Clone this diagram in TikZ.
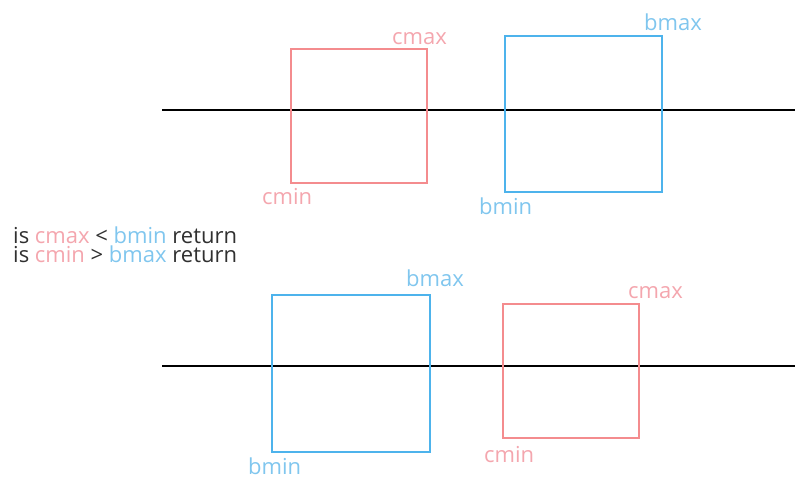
\documentclass[tikz,border=0pt]{standalone}
\usepackage{fontspec}
\setmainfont{Open Sans}
\definecolor{cred}{HTML}{F48C8E}
\definecolor{cblue}{HTML}{4DB3EC}
\definecolor{tred}{HTML}{F4A6AE}
\definecolor{tblue}{HTML}{80C6EE}
\definecolor{tdark}{HTML}{303030}
\begin{document}
\begin{tikzpicture}[x=1pt,y=-1pt,
  axis/.style={line width=2pt,black},
  cbox/.style={draw=cred,line width=2pt},
  bbox/.style={draw=cblue,line width=2pt},
  lbl/.style={font=\fontsize{22}{19.5}\selectfont,inner sep=0pt},
  rlbl/.style={lbl,text=tred},
  blbl/.style={lbl,text=tblue}]
\useasboundingbox (0,0) rectangle (795,479);
% upper case: c entirely left of b
\coordinate (a1) at (162,110);
\coordinate (a2) at (795,110);
\draw[axis] (a1) -- (a2);
\draw[cbox] (291,49) rectangle (427,183);
\draw[bbox] (505,36) rectangle (662,192);
\node[rlbl,anchor=base west] (c1max) at (392,44) {cmax};
\node[rlbl,anchor=base west] (c1min) at (262,204) {cmin};
\node[blbl,anchor=base west] (b1max) at (644,30) {bmax};
\node[blbl,anchor=base west] (b1min) at (479,214) {bmin};
% the two rejection tests (anchor sits on the baseline of the last line)
\node[lbl,anchor=base west,text=tdark,align=left] (tests) at (13,262.5)
  {is \textcolor{tred}{cmax} < \textcolor{tblue}{bmin} return\\
   is \textcolor{tred}{cmin} > \textcolor{tblue}{bmax} return};
% lower case: c entirely right of b
\coordinate (l1) at (162,366);
\coordinate (l2) at (795,366);
\draw[axis] (l1) -- (l2);
\draw[bbox] (272,295) rectangle (430,452);
\draw[cbox] (503,304) rectangle (639,438);
\node[blbl,anchor=base west] (b2max) at (406,286) {bmax};
\node[blbl,anchor=base west] (b2min) at (248,474) {bmin};
\node[rlbl,anchor=base west] (c2max) at (628,298) {cmax};
\node[rlbl,anchor=base west] (c2min) at (484,462) {cmin};
\end{tikzpicture}
\end{document}
